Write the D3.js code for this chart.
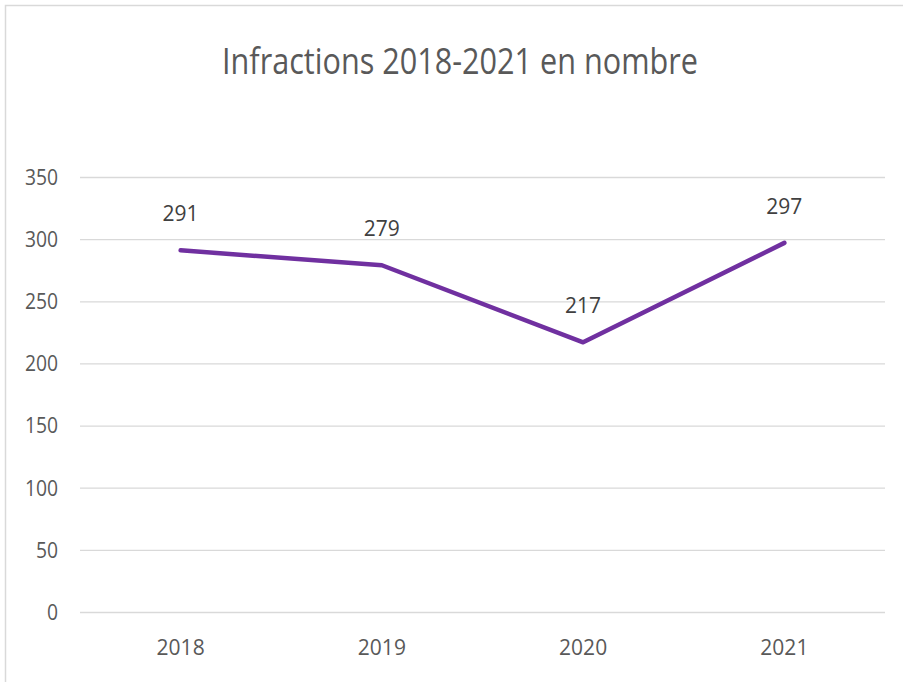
<!DOCTYPE html>
<html>
<head>
<meta charset="utf-8">
<script src="https://cdn.jsdelivr.net/npm/d3@7"></script>
<style>
  body { margin: 0; background: #fff; }
  text { font-family: "Open Sans", "Noto Sans", sans-serif; }
</style>
</head>
<body>
<div id="chart"></div>
<script>
// data
let years = ['2018', '2019', '2020', '2021']
let infractions = [291, 279, 217, 297]
let yTicks = [0, 50, 100, 150, 200, 250, 300, 350]
let title = 'Infractions 2018-2021 en nombre'

let svgWidth = 903
let svgHeight = 682
let padding = { left: 80, right: 18, top: 177, bottom: 70 }

let svg = d3.select('#chart').append('svg')
    .attr('width', svgWidth)
    .attr('height', svgHeight)

// chart frame
svg.append('rect')
    .attr('x', 5.5).attr('y', 5.5)
    .attr('width', svgWidth + 10).attr('height', svgHeight + 10)
    .attr('fill', 'none')
    .attr('stroke', '#d9d9d9')
    .attr('stroke-width', 1.5)

// title squeezed to the narrow look of the original
svg.append('text')
    .attr('x', 222)
    .attr('y', 74)
    .attr('fill', '#595959')
    .attr('font-size', '37px')
    .attr('textLength', 476)
    .attr('lengthAdjust', 'spacingAndGlyphs')
    .text(title)

let x = d3.scaleBand()
    .domain(years)
    .range([padding.left, svgWidth - padding.right])
let y = d3.scaleLinear()
    .domain([0, 350])
    .range([svgHeight - padding.bottom, padding.top])

// grid + y labels
let axis_y = d3.axisLeft(y)
    .tickValues(yTicks)
    .tickSize(-(svgWidth - padding.left - padding.right))
    .tickPadding(22)
let gy = svg.append('g')
    .attr('transform', `translate(${padding.left}, 0)`)
    .call(axis_y)
gy.select('.domain').remove()
gy.selectAll('line').attr('stroke', '#d9d9d9').attr('stroke-width', 1.3)
gy.selectAll('text')
    .attr('fill', '#595959')
    .attr('font-size', '21px')
    .attr('dy', '0.35em')
    .attr('transform', 'scale(0.92, 1)')
    .attr('x', -22 / 0.92)

let axis_x = d3.axisBottom(x).tickSize(0).tickPadding(27)
let gx = svg.append('g')
    .attr('transform', `translate(0, ${svgHeight - padding.bottom})`)
    .call(axis_x)
gx.select('.domain').remove()
gx.selectAll('text')
    .attr('fill', '#595959')
    .attr('font-size', '21px')
    .attr('dy', '0.75em')

let line = d3.line()
    .x((d, i) => x(years[i]) + x.bandwidth() / 2)
    .y(d => y(d))

svg.append('path')
    .datum(infractions)
    .attr('d', line)
    .attr('fill', 'none')
    .attr('stroke', '#7030a0')
    .attr('stroke-width', 4.5)
    .attr('stroke-linecap', 'round')
    .attr('stroke-linejoin', 'round')

svg.append('g')
    .selectAll('text')
    .data(infractions)
    .enter()
    .append('text')
    .attr('x', (d, i) => x(years[i]) + x.bandwidth() / 2)
    .attr('y', d => y(d) - 29)
    .attr('text-anchor', 'middle')
    .attr('fill', '#404040')
    .attr('font-size', '21px')
    .text(d => d)
</script>
</body>
</html>
